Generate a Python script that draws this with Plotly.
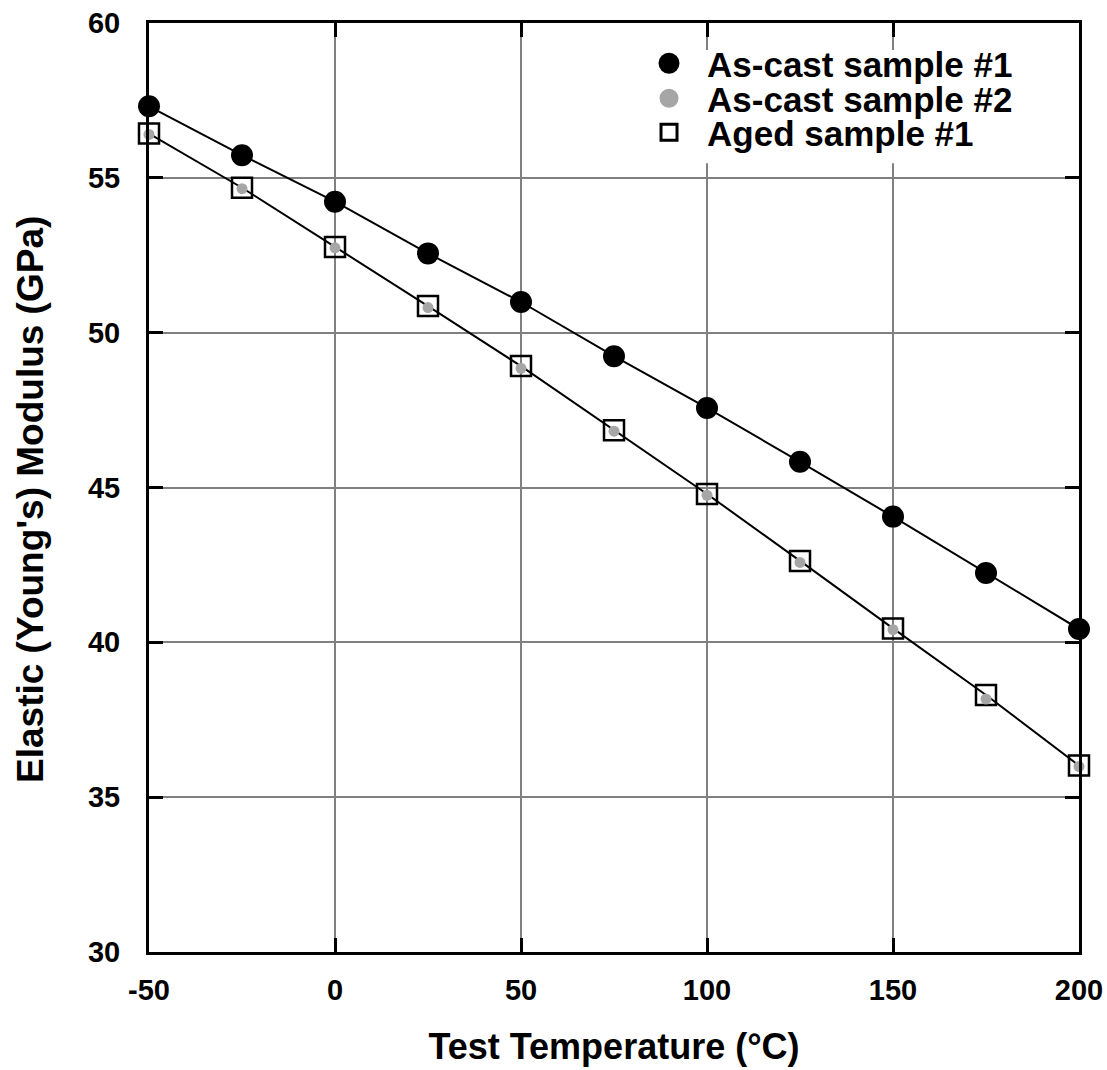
import plotly.graph_objects as go

temps = [-50, -25, 0, 25, 50, 75, 100, 125, 150, 175, 200]
ascast1 = [57.31, 55.73, 54.23, 52.56, 50.99, 49.24, 47.57, 45.83, 44.06, 42.24, 40.43]
ascast2 = [56.40, 54.65, 52.74, 50.81, 48.85, 46.82, 44.75, 42.58, 40.41, 38.17, 35.99]
aged1 = [56.43, 54.68, 52.77, 50.86, 48.92, 46.85, 44.79, 42.63, 40.45, 38.30, 36.02]

series_names = ["As-cast sample #1", "As-cast sample #2", "Aged sample #1"]
xticks = [-50, 0, 50, 100, 150, 200]
yticks = [30, 35, 40, 45, 50, 55, 60]
x_title = "Test Temperature (°C)"
y_title = "Elastic (Young's) Modulus (GPa)"

FONT = "Liberation Sans"

fig = go.Figure()
# trend lines (behind markers)
fig.add_trace(go.Scatter(x=temps, y=ascast1, mode="lines", cliponaxis=False,
                         line=dict(color="black", width=2), showlegend=False, hoverinfo="skip"))
fig.add_trace(go.Scatter(x=temps, y=aged1, mode="lines", cliponaxis=False,
                         line=dict(color="black", width=2), showlegend=False, hoverinfo="skip"))
# data markers
fig.add_trace(go.Scatter(x=temps, y=ascast1, mode="markers", name=series_names[0], showlegend=False,
                         cliponaxis=False,
                         marker=dict(symbol="circle", size=22, color="black")))
fig.add_trace(go.Scatter(x=temps, y=aged1, mode="markers", name=series_names[2], showlegend=False,
                         cliponaxis=False,
                         marker=dict(symbol="square-open", size=20, color="black",
                                     line=dict(width=2.5, color="black"))))
fig.add_trace(go.Scatter(x=temps, y=ascast2, mode="markers", name=series_names[1], showlegend=False,
                         cliponaxis=False,
                         marker=dict(symbol="circle", size=11, color="#a6a6a6")))

# legend-only entries (bigger symbols, one legend per row for tight spacing)
fig.add_trace(go.Scatter(x=[None], y=[None], mode="markers", name=series_names[0], legend="legend",
                         marker=dict(symbol="circle", size=16, color="black",
                                     line=dict(width=8, color="black"))))
fig.add_trace(go.Scatter(x=[None], y=[None], mode="markers", name=series_names[1], legend="legend2",
                         marker=dict(symbol="circle", size=16, color="#a6a6a6",
                                     line=dict(width=3, color="#a6a6a6"))))
fig.add_trace(go.Scatter(x=[None], y=[None], mode="markers", name=series_names[2], legend="legend3",
                         marker=dict(symbol="square-open", size=16, color="black",
                                     line=dict(width=3, color="black"))))

axis_common = dict(
    showline=True, linecolor="black", linewidth=3, mirror="ticks",
    ticks="inside", ticklen=14, tickwidth=3, tickcolor="black",
    showgrid=True, gridcolor="#808080", gridwidth=2, zeroline=False,
    automargin=False,
    tickfont=dict(family=FONT, size=29, color="black", weight="bold"),
)

fig.update_xaxes(range=[-50, 200], tickvals=xticks, ticktext=[str(v) for v in xticks],
                 ticklabelstandoff=10,
                 title=dict(text="<b>" + x_title + "</b>", standoff=30,
                            font=dict(family=FONT, size=36, color="black")),
                 **axis_common)
fig.update_yaxes(range=[30, 60], tickvals=yticks, ticktext=[str(v) for v in yticks],
                 ticklabelstandoff=20,
                 **axis_common)

leg_common = dict(x=0.5183, xanchor="left", yanchor="middle",
                  bgcolor="rgba(0,0,0,0)", borderwidth=0, itemwidth=66,
                  font=dict(family=FONT, size=35, color="black", weight="bold"),
                  itemsizing="trace")

fig.update_layout(
    width=1107, height=1070,
    margin=dict(l=149, r=28, t=23, b=118, autoexpand=False),
    paper_bgcolor="white", plot_bgcolor="white",
    font=dict(family=FONT, color="black"),
    showlegend=True,
    legend=dict(y=0.9564, **leg_common),
    legend2=dict(y=0.9187, **leg_common),
    legend3=dict(y=0.8821, **leg_common),
    shapes=[dict(type="rect", xref="paper", yref="paper",
                 x0=0.54, x1=0.9968, y0=0.849, y1=0.971,
                 fillcolor="white", line=dict(width=0), layer="above")],
    annotations=[dict(text="<b>" + y_title + "</b>", textangle=-90,
                      xref="paper", yref="paper", x=0, y=0.4866,
                      xanchor="center", yanchor="middle", xshift=-118,
                      showarrow=False,
                      font=dict(family=FONT, size=37, color="black"))],
)

fig.write_html("out.html")
